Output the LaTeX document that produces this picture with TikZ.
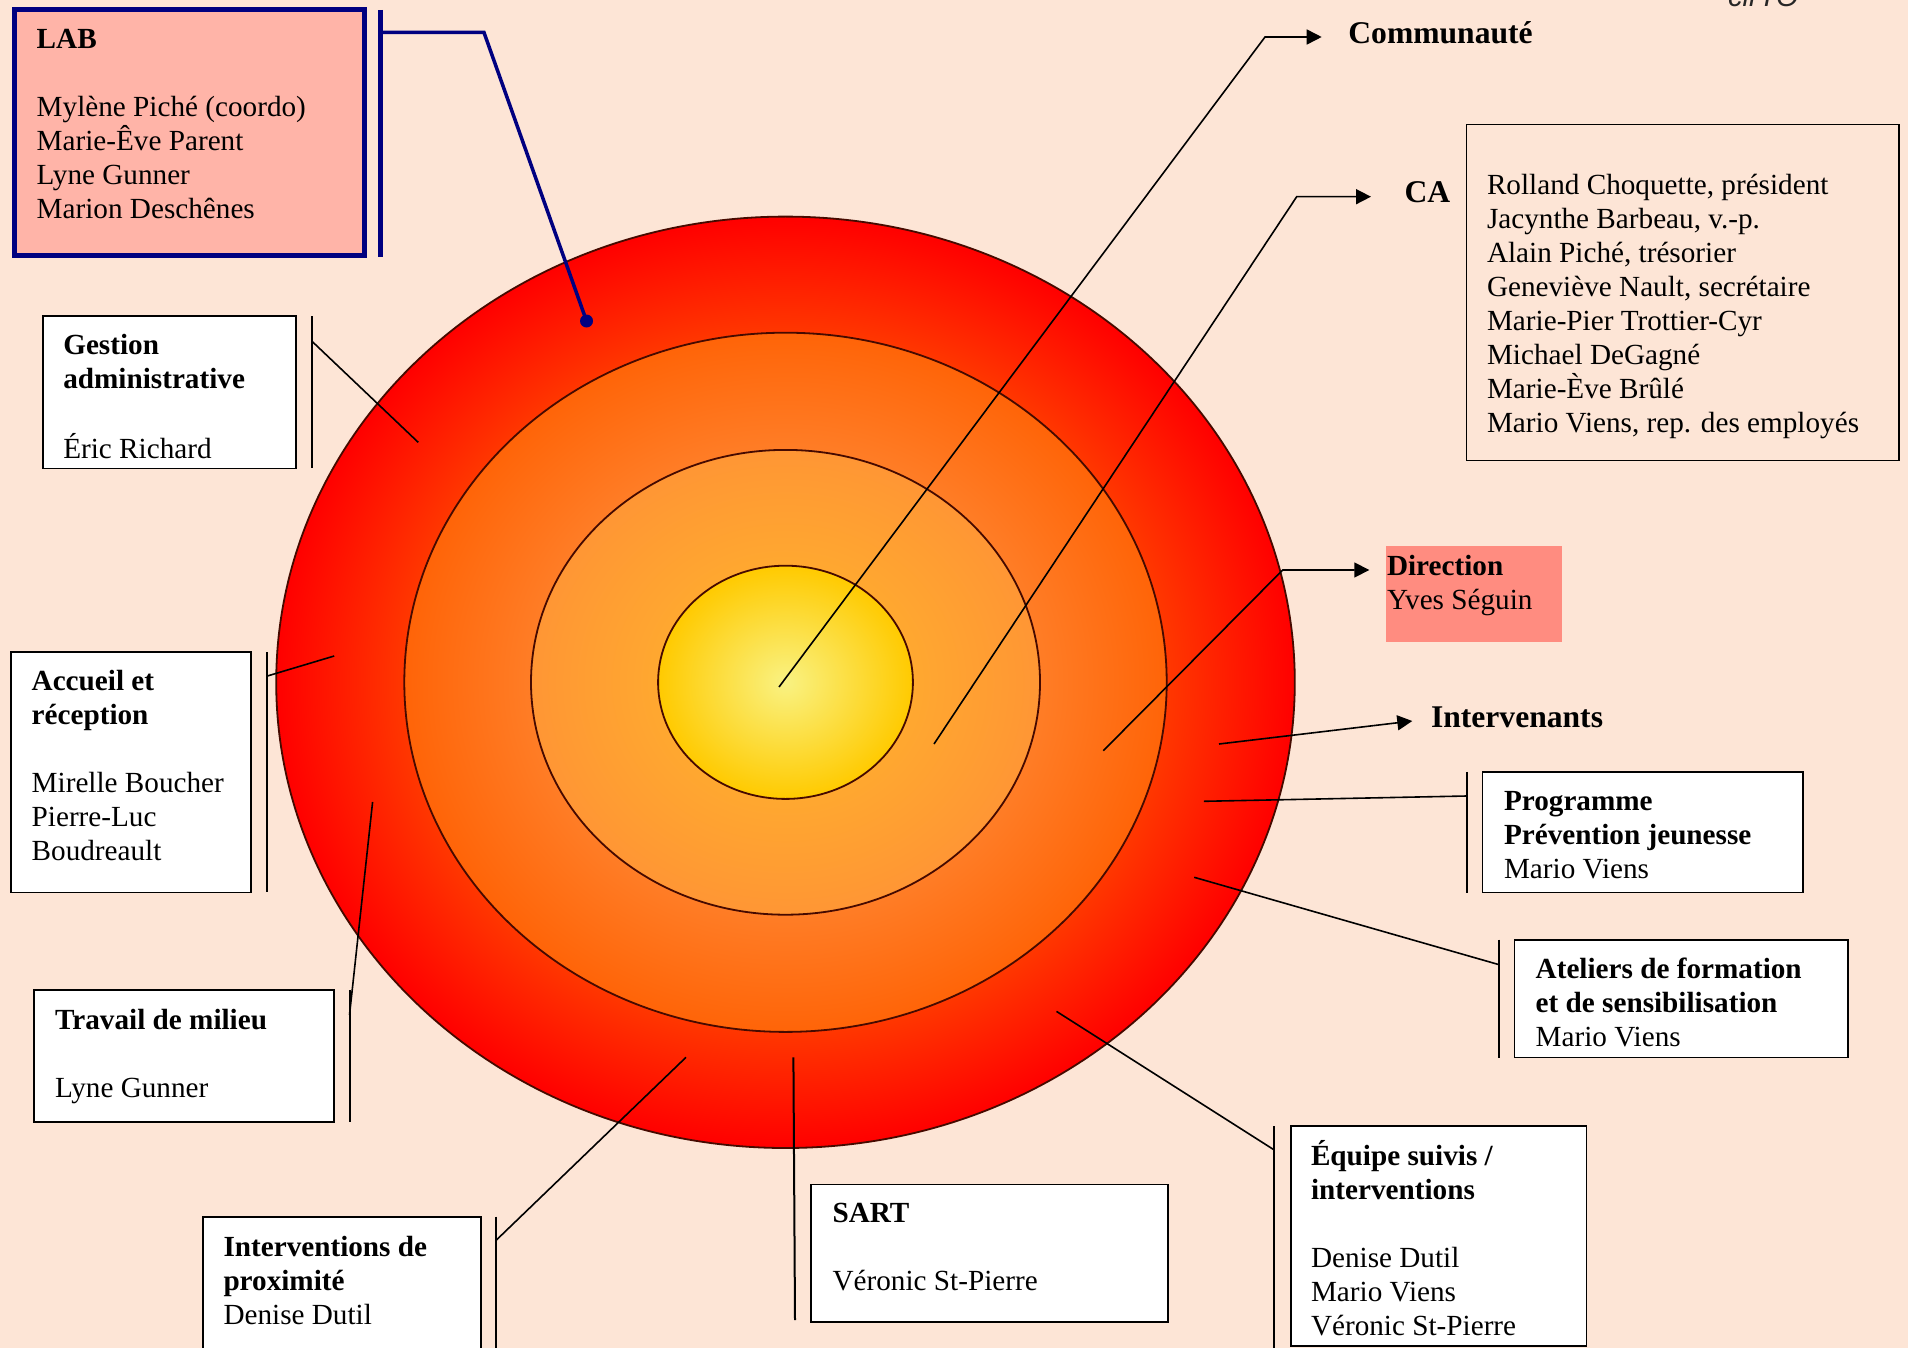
\documentclass[tikz,border=0pt]{standalone}
\usepackage{fontspec}
\setmainfont{Liberation Serif}
\newfontfamily\hdrsans{Liberation Sans}
\usetikzlibrary{arrows.meta}
\definecolor{bgpeach}{RGB}{253,229,214}
\definecolor{labfill}{RGB}{255,180,168}
\definecolor{labnavy}{RGB}{0,0,128}
\definecolor{dirfill}{RGB}{255,140,128}
\definecolor{ringline}{RGB}{70,10,0}
\definecolor{rAin}{RGB}{255,55,0}
\definecolor{rAout}{RGB}{255,0,0}
\definecolor{rBin}{RGB}{255,125,38}
\definecolor{rBout}{RGB}{255,100,8}
\definecolor{rCin}{RGB}{255,168,48}
\definecolor{rCout}{RGB}{255,150,52}
\definecolor{rDin}{RGB}{249,242,130}
\definecolor{rDout}{RGB}{255,202,0}
\pgfdeclareradialshading{ringAsh}{\pgfpoint{0bp}{0bp}}{color(0bp)=(rAin); color(18.75bp)=(rAin); color(25bp)=(rAout); color(50bp)=(rAout)}
\pgfdeclareradialshading{ringBsh}{\pgfpoint{0bp}{0bp}}{color(0bp)=(rBin); color(16.67bp)=(rBin); color(25bp)=(rBout); color(50bp)=(rBout)}
\pgfdeclareradialshading{ringCsh}{\pgfpoint{0bp}{0bp}}{color(0bp)=(rCin); color(12.5bp)=(rCin); color(25bp)=(rCout); color(50bp)=(rCout)}
\pgfdeclareradialshading{ringDsh}{\pgfpoint{0bp}{0bp}}{color(0bp)=(rDin); color(25bp)=(rDout); color(50bp)=(rDout)}
\begin{document}
\begin{tikzpicture}[x=1pt,y=-1pt,
  box/.style={draw=black, line width=1.6pt, fill=white, rectangle, anchor=north west, inner sep=0pt, outer sep=0pt},
  txt/.style={inner sep=0pt, outer sep=0pt, anchor=north west, align=left, font=\fontsize{29.2}{34}\selectfont},
  lbl/.style={inner sep=0pt, outer sep=0pt, anchor=base west, font=\fontsize{31.6}{36}\selectfont\bfseries},
  conn/.style={draw=black, line width=1.6pt},
  bracket/.style={draw=black, line width=2pt},
  arr/.style={conn, -{Triangle[length=15pt,width=15pt]}},
  ringst/.style={draw=ringline, line width=1.8pt}]
\useasboundingbox (0,0) rectangle (1908,1348);
\clip (0,0) rectangle (1908,1348);
\fill[bgpeach] (0,0) rectangle (1908,1348);

% header fragment
\node[inner sep=0pt, anchor=base west, font=\hdrsans\itshape\fontsize{29}{34}\selectfont, text=black!85] (hdr) at (1728,7) {cirTO};

% concentric ellipses
\coordinate (ctr) at (785.5,682.3);
\shade[shading=ringAsh] (ctr) ellipse [x radius=509.3, y radius=465.7];
\draw[ringst] (ctr) ellipse [x radius=509.3, y radius=465.7];
\shade[shading=ringBsh] (ctr) ellipse [x radius=381.2, y radius=349.6];
\draw[ringst] (ctr) ellipse [x radius=381.2, y radius=349.6];
\shade[shading=ringCsh] (ctr) ellipse [x radius=254.5, y radius=232.4];
\draw[ringst] (ctr) ellipse [x radius=254.5, y radius=232.4];
\shade[shading=ringDsh] (ctr) ellipse [x radius=127.4, y radius=116.6];
\draw[ringst] (ctr) ellipse [x radius=127.4, y radius=116.6];

% LAB
\node[box, draw=labnavy, fill=labfill, line width=5pt, minimum width=350pt, minimum height=246pt] (lab) at (14.5,9.8) {};
\node[txt] (labtxt) at (36.7,25.2) {\strut\textbf{LAB}\\\strut\\Mylène Piché (coordo)\\Marie-Êve Parent\\Lyne Gunner\\Marion Deschênes};
\coordinate (labB1) at (380,10);
\coordinate (labB2) at (380,257);
\draw[draw=labnavy, line width=5pt] (labB1) -- (labB2);
\coordinate (labS) at (380,32.5);
\coordinate (labK) at (484,32.5);
\coordinate (labE) at (586.5,321);
\draw[draw=labnavy, line width=3.5pt, line join=miter] (labS) -- (labK) -- (labE);
\fill[labnavy] (labE) circle (6.5);

% Gestion administrative
\node[box, minimum width=253.3pt, minimum height=152.4pt] (gest) at (42.7,316) {};
\node[txt] (gesttxt) at (63.3,330.2) {\strut\textbf{Gestion}\\\textbf{administrative}\\\strut\\Éric Richard};
\coordinate (gestB1) at (312,316);
\coordinate (gestB2) at (312,468.4);
\draw[bracket] (gestB1) -- (gestB2);
\coordinate (gestS) at (418.3,442.4);
\coordinate (gestE) at (312,341.3);
\draw[conn] (gestS) -- (gestE);

% Accueil
\node[box, minimum width=240.3pt, minimum height=240.4pt] (acc) at (10.7,652) {};
\node[txt] (acctxt) at (31.7,666.2) {\strut\textbf{Accueil et}\\\textbf{réception}\\\strut\\Mirelle Boucher\\Pierre-Luc\\Boudreault};
\coordinate (accB1) at (266.7,652);
\coordinate (accB2) at (266.7,892.4);
\draw[bracket] (accB1) -- (accB2);
\coordinate (accS) at (334.2,656);
\coordinate (accE) at (266.7,676.2);
\draw[conn] (accS) -- (accE);

% Travail de milieu
\node[box, minimum width=300pt, minimum height=131.7pt] (trav) at (34.2,990) {};
\node[txt] (travtxt) at (55.1,1005.2) {\strut\textbf{Travail de milieu}\\\strut\\Lyne Gunner};
\coordinate (travB1) at (349.5,990);
\coordinate (travB2) at (349.5,1121.7);
\draw[bracket] (travB1) -- (travB2);
\coordinate (travS) at (372.6,802);
\coordinate (travE) at (349.5,1015);
\draw[conn] (travS) -- (travE);

% Interventions de proximite
\node[box, minimum width=278pt, minimum height=160pt] (prox) at (203,1216.7) {};
\node[txt] (proxtxt) at (223.5,1232.2) {\strut\textbf{Interventions de}\\\textbf{proximité}\\Denise Dutil};
\coordinate (proxB1) at (496.4,1216.7);
\coordinate (proxB2) at (496.4,1360);
\draw[bracket] (proxB1) -- (proxB2);
\coordinate (proxS) at (686,1057.3);
\coordinate (proxE) at (496.4,1240);
\draw[conn] (proxS) -- (proxE);

% SART
\node[box, minimum width=357.1pt, minimum height=137.4pt] (sart) at (810.9,1184.3) {};
\node[txt] (sarttxt) at (832.6,1199) {\strut\textbf{SART}\\\strut\\Véronic St-Pierre};
\coordinate (sartS) at (793.4,1057.3);
\coordinate (sartE) at (795,1320);
\draw[bracket] (sartS) -- (sartE);

% Equipe suivis / interventions
\node[box, minimum width=295.5pt, minimum height=219.7pt] (equi) at (1291,1126) {};
\node[txt] (equitxt) at (1311,1140.7) {\strut\textbf{Équipe suivis /}\\\textbf{interventions}\\\strut\\Denise Dutil\\Mario Viens\\Véronic St-Pierre};
\coordinate (equiB1) at (1274.3,1126);
\coordinate (equiB2) at (1274.3,1348);
\draw[bracket] (equiB1) -- (equiB2);
\coordinate (equiS) at (1056.5,1011.4);
\coordinate (equiE) at (1274.3,1150);
\draw[conn] (equiS) -- (equiE);

% Ateliers
\node[box, minimum width=333.4pt, minimum height=117.5pt] (atel) at (1514.3,940) {};
\node[txt] (ateltxt) at (1535.7,954.2) {\strut\textbf{Ateliers de formation}\\\textbf{et de sensibilisation}\\Mario Viens};
\coordinate (atelB1) at (1498.8,939.6);
\coordinate (atelB2) at (1498.8,1057.5);
\draw[bracket] (atelB1) -- (atelB2);
\coordinate (atelS) at (1194.2,877.3);
\coordinate (atelE) at (1498.8,964.6);
\draw[conn] (atelS) -- (atelE);

% Programme
\node[box, minimum width=320.1pt, minimum height=120.5pt] (prog) at (1482.6,772) {};
\node[txt] (progtxt) at (1504,786.2) {\strut\textbf{Programme}\\\textbf{Prévention jeunesse}\\Mario Viens};
\coordinate (progB1) at (1466.7,771.8);
\coordinate (progB2) at (1466.7,892.5);
\draw[bracket] (progB1) -- (progB2);
\coordinate (progS) at (1203.9,801.3);
\coordinate (progE) at (1466.7,796);
\draw[conn] (progS) -- (progE);

% Intervenants
\node[lbl] (interv) at (1431,727.9) {Intervenants};
\coordinate (intervS) at (1219,744);
\coordinate (intervT) at (1412.3,721);
\draw[arr] (intervS) -- (intervT);

% Direction
\node[rectangle, fill=dirfill, anchor=north west, inner sep=0pt, outer sep=0pt, minimum width=176pt, minimum height=95.8pt] (dir) at (1386,546) {};
\node[txt] (dirtxt) at (1387,551.6) {\strut\textbf{Direction}\\Yves Séguin};
\coordinate (dirS) at (1103.3,750.7);
\coordinate (dirK) at (1282.7,570);
\coordinate (dirT) at (1369.3,570);
\draw[arr] (dirS) -- (dirK) -- (dirT);

% CA
\node[box, line width=1.4pt, fill=none, minimum width=432.1pt, minimum height=336.4pt] (ca) at (1466.7,124.3) {};
\node[txt] (catxt) at (1487,170.2) {\strut Rolland Choquette, président\\Jacynthe Barbeau, v.-p.\\Alain Piché, trésorier\\Geneviève Nault, secrétaire\\Marie-Pier Trottier-Cyr\\Michael DeGagné\\Marie-Ève Brûlé\\Mario Viens, rep. des employés};
\node[lbl] (calbl) at (1404.6,202.7) {CA};
\coordinate (caS) at (934,744);
\coordinate (caK) at (1296.7,196.7);
\coordinate (caT) at (1371,196.7);
\draw[arr] (caS) -- (caK) -- (caT);

% Communaute
\node[lbl] (comm) at (1348.4,44) {Communauté};
\coordinate (commS) at (779,687);
\coordinate (commK) at (1265,37);
\coordinate (commT) at (1321.7,37);
\draw[arr] (commS) -- (commK) -- (commT);
\end{tikzpicture}
\end{document}
